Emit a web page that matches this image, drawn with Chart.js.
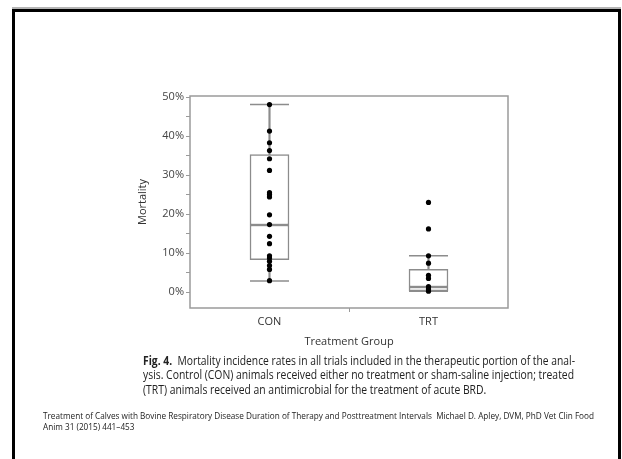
<!DOCTYPE html>
<html>
<head>
<meta charset="utf-8">
<script src="https://cdn.jsdelivr.net/npm/chart.js@4/dist/chart.umd.min.js"></script>
<style>
  html, body { margin: 0; padding: 0; background: #fff; }
  body { width: 622px; height: 459px; position: relative; overflow: hidden; font-family: "Open Sans", sans-serif; }
  #frame { position: absolute; left: 12px; top: 9px; width: 603px; height: 470px; border: 3px solid #000; box-shadow: 0 -2px 0 #b5b5b5; }
  #wrap { position: absolute; left: 0; top: 0; width: 622px; height: 459px; }
  .line { position: absolute; white-space: pre; transform-origin: 0 0; color: #222; }
  .cap { font-size: 12.5px; line-height: 15px; }
  .ref { font-size: 8.5px; line-height: 11px; }
</style>
</head>
<body>
<div id="frame"></div>
<div id="wrap"><canvas id="mortalidad" width="622" height="459"></canvas></div>

<div class="line cap" style="left:143px; top:353px" data-w="432"><b>Fig. 4.</b>  Mortality incidence rates in all trials included in the therapeutic portion of the anal-</div>
<div class="line cap" style="left:143px; top:367px" data-w="431">ysis. Control (CON) animals received either no treatment or sham-saline injection; treated</div>
<div class="line cap" style="left:143px; top:382px" data-s="1">(TRT) animals received an antimicrobial for the treatment of acute BRD.</div>
<div class="line ref" style="left:43px; top:410px" data-w="551">Treatment of Calves with Bovine Respiratory Disease Duration of Therapy and Posttreatment Intervals  Michael D. Apley, DVM, PhD Vet Clin Food</div>
<div class="line ref" style="left:43px; top:421px" data-s="4">Anim 31 (2015) 441–453</div>

<script>
// categorias y valores
var grupos = ['CON', 'TRT'];
var mortCON = [48.1, 41.3, 38.3, 36.3, 34.2, 31.2, 25.5, 25.0, 24.4, 19.8, 17.3, 14.3, 12.4, 9.3, 8.7, 7.9, 6.8, 5.8, 2.9];
var mortTRT = [23.0, 16.2, 9.3, 7.4, 4.3, 3.5, 1.4, 0.8, 0.2];
var q1 = [8.3, 0.3];
var mediana = [17.2, 1.3];
var q3 = [35.3, 5.8];
var bigoteMin = [2.8, 0.2];
var bigoteMax = [48.1, 9.3];
var ticksY = [0, 5, 10, 15, 20, 25, 30, 35, 40, 45, 50];

var gris = '#8c8c8c';

function puntos(cat, valores) {
    return valores.map(function (v) { return { x: cat, y: v }; });
}

function capas() {
    var d = [];
    grupos.forEach(function (g, i) {
        d.push({ x: g, y: bigoteMax[i] });
        d.push({ x: g, y: bigoteMin[i] });
    });
    return d;
}

var marco = {
    id: 'marco',
    beforeDatasetsDraw: function (chart) {
        var a = chart.chartArea, ctx = chart.ctx;
        ctx.save();
        ctx.strokeStyle = '#9a9a9a';
        ctx.lineWidth = 1.5;
        ctx.strokeRect(a.left, a.top, a.right - a.left, a.bottom - a.top);
        ctx.restore();
    }
};

var ctxM = document.getElementById('mortalidad');
var chart = new Chart(ctxM, {
    type: 'bar',
    data: {
        labels: grupos,
        datasets: [{
            label: 'bigote',
            data: grupos.map(function (g, i) { return [bigoteMin[i], bigoteMax[i]]; }),
            backgroundColor: gris,
            borderWidth: 0,
            barThickness: 1.5,
            grouped: false,
            order: 5
        }, {
            label: 'caja inferior',
            data: grupos.map(function (g, i) { return [q1[i], mediana[i]]; }),
            backgroundColor: '#fff',
            borderColor: gris,
            borderWidth: 1.5,
            borderSkipped: false,
            barThickness: 39,
            grouped: false,
            order: 4
        }, {
            label: 'caja superior',
            data: grupos.map(function (g, i) { return [mediana[i], q3[i]]; }),
            backgroundColor: '#fff',
            borderColor: gris,
            borderWidth: 1.5,
            borderSkipped: false,
            barThickness: 39,
            grouped: false,
            order: 3
        }, {
            type: 'line',
            label: 'limites',
            data: capas(),
            showLine: false,
            pointStyle: 'line',
            pointRadius: 19.5,
            borderColor: gris,
            pointBorderColor: gris,
            pointBorderWidth: 1.5,
            order: 2
        }, {
            type: 'line',
            label: 'CON',
            data: puntos('CON', mortCON),
            showLine: false,
            pointRadius: 2.6,
            pointBackgroundColor: '#000',
            pointBorderColor: '#000',
            pointBorderWidth: 0,
            order: 1
        }, {
            type: 'line',
            label: 'TRT',
            data: puntos('TRT', mortTRT),
            showLine: false,
            pointRadius: 2.6,
            pointBackgroundColor: '#000',
            pointBorderColor: '#000',
            pointBorderWidth: 0,
            order: 1
        }]
    },
    options: {
        responsive: false,
        animation: false,
        layout: { padding: { left: 136, top: 96, right: 114, bottom: 101 } },
        plugins: {
            legend: { display: false },
            tooltip: { enabled: false }
        },
        scales: {
            x: {
                offset: true,
                grid: {
                    drawOnChartArea: false,
                    offset: true,
                    tickLength: 4,
                    tickColor: function (c) { return c.index === 1 ? '#9a9a9a' : 'rgba(0,0,0,0)'; }
                },
                border: { display: false },
                ticks: { color: '#333', padding: 3, font: { family: 'Open Sans', size: 11 } },
                title: {
                    display: true,
                    text: 'Treatment Group',
                    color: '#333',
                    font: { family: 'Open Sans', size: 11 },
                    padding: { top: 0, bottom: 10 }
                },
                afterFit: function (s) { s.height = 50; }
            },
            y: {
                min: -4.1,
                max: 50.3,
                afterBuildTicks: function (s) {
                    s.ticks = ticksY.map(function (v) { return { value: v }; });
                },
                grid: { drawOnChartArea: false, tickLength: 4, tickColor: '#9a9a9a' },
                border: { display: false },
                ticks: {
                    color: '#444',
                    padding: 2,
                    font: { family: 'Open Sans', size: 11 },
                    callback: function (v) { return v % 10 === 0 ? v + '%' : ''; }
                },
                title: {
                    display: true,
                    text: 'Mortality',
                    color: '#333',
                    font: { family: 'Open Sans', size: 11 },
                    padding: 0
                },
                afterFit: function (s) { s.width = 54; }
            }
        }
    },
    plugins: [marco]
});

// ajustar ancho de las lineas de texto
var escala = 1;
document.querySelectorAll('.line').forEach(function (el) {
    var w = el.getBoundingClientRect().width;
    var k;
    if (el.dataset.w) {
        k = parseFloat(el.dataset.w) / w;
        if (el.classList.contains('cap')) escala = k; else el._k = k;
    }
});
var escalaRef = 1;
document.querySelectorAll('.line').forEach(function (el) {
    var w = el.getBoundingClientRect().width;
    if (el.dataset.w) {
        var k = parseFloat(el.dataset.w) / w;
        el.style.transform = 'scaleX(' + k + ')';
        if (el.classList.contains('ref')) escalaRef = k;
    }
});
document.querySelectorAll('.line[data-s]').forEach(function (el) {
    var k = el.classList.contains('ref') ? escalaRef : escala;
    el.style.transform = 'scaleX(' + k + ')';
});
</script>
</body>
</html>
